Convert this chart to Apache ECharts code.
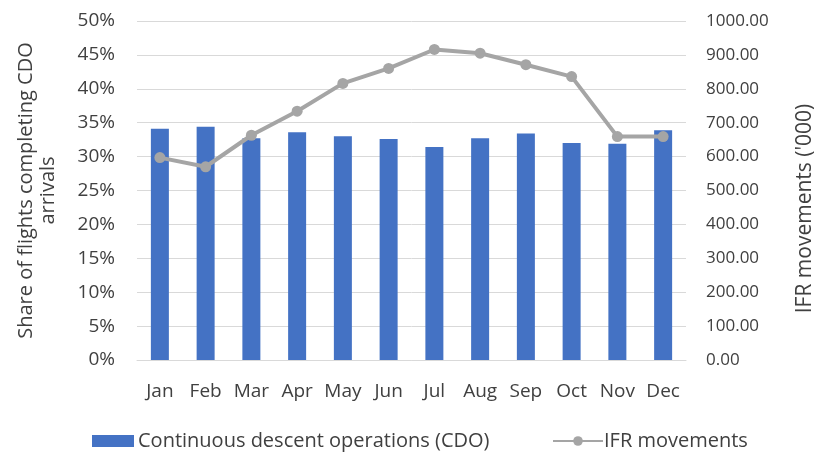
<!DOCTYPE html>
<html>
<head>
<meta charset="utf-8">
<script src="https://cdn.jsdelivr.net/npm/echarts@6/dist/echarts.min.js"></script>
<style>
  html, body { margin: 0; padding: 0; background: #fff; }
  #chart { width: 824px; height: 452px; }
</style>
</head>
<body>
<div id="chart"></div>
<script>
const months = ['Jan', 'Feb', 'Mar', 'Apr', 'May', 'Jun', 'Jul', 'Aug', 'Sep', 'Oct', 'Nov', 'Dec']
// share of arrivals flown as CDO (%)
const cdoShare = [34.1, 34.4, 32.7, 33.6, 33.0, 32.6, 31.4, 32.7, 33.4, 32.0, 31.9, 33.9]
// IFR movements ('000)
const ifrMovements = [597, 570, 663, 734, 816, 860, 916, 905, 871, 836, 659, 659]

const font = 'Open Sans'
const textColor = '#404040'

const chart = echarts.init(document.getElementById('chart'))

chart.setOption({
  animation: false,
  textStyle: { fontFamily: font },
  grid: { left: 137, right: 136, top: 21, bottom: 92 },
  legend: [
    {
      top: 426,
      left: 87,
      itemWidth: 42,
      itemHeight: 12,
      itemGap: 0,
      textStyle: { color: textColor, fontSize: 20, fontFamily: font, padding: [0, 0, 0, -1] },
      data: [{ name: 'Continuous descent operations (CDO)', icon: 'rect' }],
    },
    {
      top: 426,
      left: 547,
      itemWidth: 50,
      itemHeight: 12,
      textStyle: { color: textColor, fontSize: 20, fontFamily: font, padding: [0, 0, 0, -4] },
      data: [{ name: 'IFR movements' }],
    },
  ],
  xAxis: {
    type: 'category',
    data: months,
    axisTick: { show: false },
    axisLine: { lineStyle: { color: '#d9d9d9' } },
    axisLabel: { color: textColor, fontSize: 19, margin: 22, interval: 0 },
  },
  yAxis: [
    {
      type: 'value',
      min: 0,
      max: 50,
      interval: 5,
      name: 'Share of flights completing CDO\narrivals',
      nameLocation: 'middle',
      nameRotate: 90,
      nameGap: 78,
      nameTextStyle: { color: textColor, fontSize: 20, lineHeight: 22 },
      axisLabel: { color: textColor, fontSize: 19, margin: 22, formatter: '{value}%' },
      axisLine: { show: false },
      axisTick: { show: false },
      splitLine: { lineStyle: { color: '#d9d9d9', width: 1 } },
    },
    {
      type: 'value',
      min: 0,
      max: 1000,
      interval: 100,
      name: "IFR movements ('000)",
      nameLocation: 'middle',
      nameRotate: 90,
      nameGap: 109,
      nameTextStyle: { color: textColor, fontSize: 21, padding: [0, 36, 0, 0] },
      axisLabel: { color: textColor, fontSize: 17, margin: 20, formatter: v => v.toFixed(2) },
      axisLine: { show: false },
      axisTick: { show: false },
      splitLine: { show: false },
    },
  ],
  series: [
    {
      name: 'Continuous descent operations (CDO)',
      type: 'bar',
      data: cdoShare,
      barWidth: 18,
      itemStyle: { color: '#4472c4' },
    },
    {
      name: 'IFR movements',
      type: 'line',
      yAxisIndex: 1,
      data: ifrMovements,
      symbol: 'circle',
      symbolSize: 11,
      lineStyle: { color: '#a5a5a5', width: 4 },
      itemStyle: { color: '#a5a5a5' },
    },
  ],
})
</script>
</body>
</html>
